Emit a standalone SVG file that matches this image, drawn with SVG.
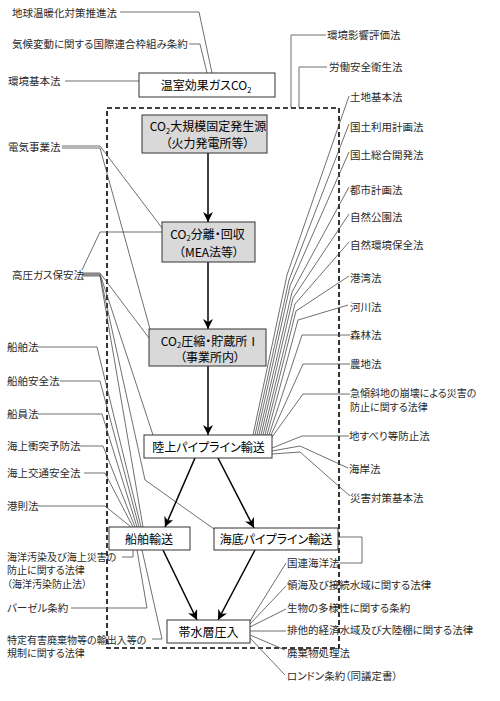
<svg xmlns="http://www.w3.org/2000/svg" width="500" height="701" viewBox="0 0 500 701">
<defs>
<marker id="ah" viewBox="0 0 10 10" refX="10" refY="5" markerWidth="10" markerHeight="10" markerUnits="userSpaceOnUse" orient="auto"><path d="M0,0 L10,5 L0,10 L3,5 z" fill="#000"/></marker>
<style>
text{font-family:"Noto Sans CJK JP","Noto Sans",sans-serif;font-feature-settings:"palt";}
.lb{font-size:10.5px;fill:#2a2a2a;}
.lb2{font-size:10px;fill:#2a2a2a;}
.nt{font-size:12px;fill:#000;text-anchor:middle;}
.sb{font-size:7.5px;}
.bx{fill:#fff;stroke:#333;stroke-width:1;}
.gb{fill:#d9d9d9;stroke:#333;stroke-width:1;}
.ln{fill:none;stroke:#4a4a4a;stroke-width:0.8;}
.ar{fill:none;stroke:#000;stroke-width:1.5;marker-end:url(#ah);}
.dash{fill:none;stroke:#000;stroke-width:1.6;stroke-dasharray:5,3;}
</style>
</defs>
<rect width="500" height="701" fill="#fff"/>

<rect id="boundary" class="dash" x="107" y="108" width="232" height="540"/>

<g id="connectors">
<polyline class="ln" points="120,12 199,12 212,73"/>
<polyline class="ln" points="189,44 200,44 207,73"/>
<polyline class="ln" points="65,81 139,81"/>
<polyline class="ln" points="326,35 291,35 291,108"/>
<polyline class="ln" points="327,67 299,67 299,108"/>
<polyline class="ln" points="349,96 287,275 253,435"/>
<polyline class="ln" points="349,124 289,280 255,435"/>
<polyline class="ln" points="349,152 290,286 257,435"/>
<polyline class="ln" points="349,187 292,292 259,435"/>
<polyline class="ln" points="349,214 293,298 261,435"/>
<polyline class="ln" points="349,242 295,304 263,435"/>
<polyline class="ln" points="349,276 296,311 265,435"/>
<polyline class="ln" points="348,305 298,320 267,435"/>
<polyline class="ln" points="350,335 302,335 269,435"/>
<polyline class="ln" points="350,364 303,364 271,435"/>
<polyline class="ln" points="350,394 303,394 272,437"/>
<polyline class="ln" points="349,436 302,436 272,448"/>
<polyline class="ln" points="348,468 300,446 272,451"/>
<polyline class="ln" points="350,496 300,452 272,454"/>
<polyline class="ln" points="62,146 100,146 162,228"/>
<polyline class="ln" points="62,148 100,148 150,329"/>
<polyline class="ln" points="82,270 100,232 162,232"/>
<polyline class="ln" points="82,273 100,273 149,338"/>
<polyline class="ln" points="82,274 100,274 153,435"/>
<polyline class="ln" points="82,275 100,275 145,480 214,529"/>
<polyline class="ln" points="82,276 100,276 143,527"/>
<polyline class="ln" points="38,347 97,347 141,527"/>
<polyline class="ln" points="60,381 100,381 139,527"/>
<polyline class="ln" points="38,414 102,414 137,527"/>
<polyline class="ln" points="80,446 103,446 135,527"/>
<polyline class="ln" points="84,473 105,473 133,527"/>
<polyline class="ln" points="38,506 105,506 131,527"/>
<polyline class="ln" points="122,557 133,557 133,550"/>
<polyline class="ln" points="71,608 147,608 137,550"/>
<polyline class="ln" points="152,639 162,639 142,550"/>
<polyline class="ln" points="338,537 362,537 362,563 340,563"/>
<polyline class="ln" points="286,563 250,621"/>
<polyline class="ln" points="286,586 250,624"/>
<polyline class="ln" points="286,609 250,627"/>
<polyline class="ln" points="286,631 250,631"/>
<polyline class="ln" points="285,650 250,635"/>
<polyline class="ln" points="285,675 250,638"/>
<line class="ar" x1="208" y1="153" x2="208" y2="222"/>
<line class="ar" x1="208" y1="262" x2="208" y2="329"/>
<line class="ar" x1="208" y1="366" x2="208" y2="435"/>
<line class="ar" x1="195" y1="458" x2="165" y2="527"/>
<line class="ar" x1="218" y1="458" x2="254" y2="528"/>
<line class="ar" x1="163" y1="550" x2="197" y2="620"/>
<line class="ar" x1="255" y1="550" x2="218" y2="620"/>
</g>

<g id="node-ghg"><rect class="bx" x="139" y="73" width="136" height="24"/><text class="nt" x="206" y="90">温室効果ガスCO<tspan class="sb" dy="2.5">2</tspan></text></g>
<g id="node-source"><rect class="gb" x="142" y="115" width="125" height="38"/><text class="nt" x="208" y="131">CO<tspan class="sb" dy="2.5">2</tspan><tspan dy="-2.5">大規模固定発生源</tspan></text><text class="nt" x="207.5" y="148">（火力発電所等）</text></g>
<g id="node-capture"><rect class="gb" x="162" y="222" width="93" height="40"/><text class="nt" x="207.5" y="238.5">CO<tspan class="sb" dy="2.5">2</tspan><tspan dy="-2.5">分離・回収</tspan></text><text class="nt" x="209" y="256.5">（MEA法等）</text></g>
<g id="node-storage"><rect class="gb" x="149" y="329" width="117" height="37"/><text class="nt" x="210" y="345.5">CO<tspan class="sb" dy="2.5">2</tspan><tspan dy="-2.5">圧縮・貯蔵所Ⅰ</tspan></text><text class="nt" x="210" y="362">（事業所内）</text></g>
<g id="node-landpipe"><rect class="bx" x="144" y="435" width="128" height="23"/><text class="nt" x="208.5" y="451.5">陸上パイプライン輸送</text></g>
<g id="node-ship"><rect class="bx" x="109" y="527" width="81" height="23"/><text class="nt" x="149" y="543.5">船舶輸送</text></g>
<g id="node-subsea"><rect class="bx" x="214" y="528" width="124" height="22"/><text class="nt" x="276" y="543.5">海底パイプライン輸送</text></g>
<g id="node-inject"><rect class="bx" x="167" y="620" width="83" height="23"/><text class="nt" x="208.5" y="636.5">帯水層圧入</text></g>

<g id="laws-left">
<g id="l1"><text class="lb" x="12" y="17">地球温暖化対策推進法</text></g>
<g id="l2"><text class="lb" x="12" y="48">気候変動に関する国際連合枠組み条約</text></g>
<g id="l3"><text class="lb" x="8" y="85">環境基本法</text></g>
<g id="l4"><text class="lb" x="8" y="151">電気事業法</text></g>
<g id="l5"><text class="lb" x="12" y="279">高圧ガス保安法</text></g>
<g id="l6"><text class="lb" x="7" y="351">船舶法</text></g>
<g id="l7"><text class="lb" x="7" y="385">船舶安全法</text></g>
<g id="l8"><text class="lb" x="7" y="418">船員法</text></g>
<g id="l9"><text class="lb" x="7" y="450">海上衝突予防法</text></g>
<g id="l10"><text class="lb" x="7" y="477">海上交通安全法</text></g>
<g id="l11"><text class="lb" x="7" y="510">港則法</text></g>
<g id="l12"><text class="lb2" x="7" y="560.5">海洋汚染及び海上災害の</text><text class="lb2" x="7" y="574">防止に関する法律</text><text class="lb2" x="7" y="587.5">（海洋汚染防止法）</text></g>
<g id="l13"><text class="lb" x="7" y="612">バーゼル条約</text></g>
<g id="l14"><text class="lb2" x="7" y="643.5">特定有害廃棄物等の輸出入等の</text><text class="lb2" x="7" y="657">規制に関する法律</text></g>
</g>
<g id="laws-right">
<g id="r1"><text class="lb" x="327" y="39">環境影響評価法</text></g>
<g id="r2"><text class="lb" x="329" y="71">労働安全衛生法</text></g>
<g id="r3"><text class="lb" x="350" y="101">土地基本法</text></g>
<g id="r4"><text class="lb" x="350" y="131">国土利用計画法</text></g>
<g id="r5"><text class="lb" x="350" y="159">国土総合開発法</text></g>
<g id="r6"><text class="lb" x="350" y="194">都市計画法</text></g>
<g id="r7"><text class="lb" x="350" y="221">自然公園法</text></g>
<g id="r8"><text class="lb" x="350" y="249">自然環境保全法</text></g>
<g id="r9"><text class="lb" x="350" y="282">港湾法</text></g>
<g id="r10"><text class="lb" x="350" y="311">河川法</text></g>
<g id="r11"><text class="lb" x="350" y="339">森林法</text></g>
<g id="r12"><text class="lb" x="350" y="368">農地法</text></g>
<g id="r13"><text class="lb2" x="350" y="396.5">急傾斜地の崩壊による災害の</text><text class="lb2" x="350" y="410.5">防止に関する法律</text></g>
<g id="r14"><text class="lb" x="349" y="440">地すべり等防止法</text></g>
<g id="r15"><text class="lb" x="349" y="473">海岸法</text></g>
<g id="r16"><text class="lb" x="350" y="502">災害対策基本法</text></g>
<g id="r17"><text class="lb" x="287" y="567">国連海洋法</text></g>
<g id="r18"><text class="lb" x="287" y="589">領海及び接続水域に関する法律</text></g>
<g id="r19"><text class="lb" x="287" y="612">生物の多様性に関する条約</text></g>
<g id="r20"><text class="lb" x="287" y="634">排他的経済水域及び大陸棚に関する法律</text></g>
<g id="r21"><text class="lb" x="287" y="657">廃棄物処理法</text></g>
<g id="r22"><text class="lb" x="287" y="680">ロンドン条約（同議定書）</text></g>
</g>
</svg>
